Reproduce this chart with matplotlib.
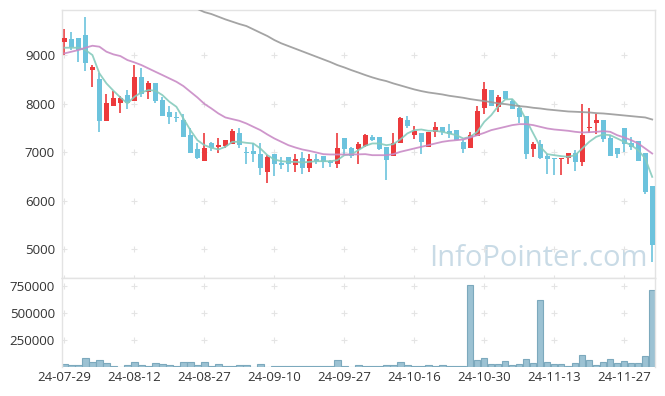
import matplotlib
matplotlib.use("Agg")
import matplotlib.pyplot as plt
import numpy as np

dates = ["24-07-29","24-07-30","24-07-31","24-08-01","24-08-02","24-08-05","24-08-06","24-08-07","24-08-08","24-08-09",
         "24-08-12","24-08-13","24-08-14","24-08-16","24-08-19","24-08-20","24-08-21","24-08-22","24-08-23","24-08-26",
         "24-08-27","24-08-28","24-08-29","24-08-30","24-09-02","24-09-03","24-09-04","24-09-05","24-09-06","24-09-09",
         "24-09-10","24-09-11","24-09-12","24-09-13","24-09-19","24-09-20","24-09-23","24-09-24","24-09-25","24-09-26",
         "24-09-27","24-09-30","24-10-02","24-10-04","24-10-07","24-10-08","24-10-10","24-10-11","24-10-14","24-10-15",
         "24-10-16","24-10-17","24-10-18","24-10-21","24-10-22","24-10-23","24-10-24","24-10-25","24-10-28","24-10-29",
         "24-10-30","24-10-31","24-11-01","24-11-04","24-11-05","24-11-06","24-11-07","24-11-08","24-11-11","24-11-12",
         "24-11-13","24-11-14","24-11-15","24-11-18","24-11-19","24-11-20","24-11-21","24-11-22","24-11-25","24-11-26",
         "24-11-27","24-11-28","24-11-29","24-12-02","24-12-03"]

opens = [9275,9323,9344,9412,8698,8505,7646,7955,8017,8175,
         8058,8539,8244,8416,8072,7818,7728,7660,7350,7062,
         6821,7179,7110,7131,7165,7385,7007,7021,6972,6594,
         6959,6780,6904,6739,6876,6684,6849,6931,6814,6766,
         7289,7076,7062,7131,7316,7316,7110,6924,7192,7660,
         7351,7399,7110,7419,7515,7433,7453,7213,7089,7330,
         7900,8278,7921,8265,8045,7914,7742,7069,7165,6918,
         6876,6849,6876,6993,6801,7502,7591,7660,7295,7089,
         7495,7192,7220,6993,6299]
highs = [9529,9481,9344,9777,8787,8636,8189,8265,8161,8278,
         8787,8739,8464,8430,8141,7955,7832,7784,7488,7192,
         7385,7199,7282,7260,7474,7488,7110,7192,7192,6938,
         6959,6904,6904,6959,7007,6959,6959,6931,6835,7399,
         7289,7110,7213,7364,7350,7316,7110,7385,7728,7742,
         7536,7399,7419,7625,7515,7577,7453,7247,7419,7948,
         8436,8278,8175,8265,8093,7969,7742,7213,7247,6959,
         6876,6876,6993,7041,7983,7900,7784,7660,7350,7089,
         7495,7302,7220,6993,6299]
lows = [9000,9103,8863,8677,8333,7419,7646,7955,7797,7880,
        8058,8141,8086,8003,7749,7577,7612,7316,6986,6856,
        6821,7027,6993,7089,7165,7096,6746,6801,6539,6374,
        6505,6649,6594,6594,6546,6594,6766,6684,6697,6684,
        6938,6890,6753,7110,7240,7041,6436,6924,7192,7488,
        7261,6972,7110,7316,7350,7282,7247,6993,7089,7330,
        7783,7955,7832,8093,7880,7591,6849,6904,6849,6560,
        6539,6539,6746,6608,6711,7385,7371,7213,6924,6890,
        7007,7041,6821,6148,4739]
closes = [9344,9158,9103,8842,8753,7646,8003,8106,8106,8003,
          8539,8196,8416,8058,7749,7715,7708,7316,6986,6883,
          7076,7076,7144,7247,7433,7144,6986,6966,6677,6897,
          6752,6732,6759,6869,6677,6849,6821,6800,6780,7076,
          7062,6924,7165,7350,7247,7055,6835,7179,7694,7543,
          7433,7213,7419,7515,7405,7371,7247,7062,7350,7845,
          8299,7955,8127,8093,7893,7728,6952,7165,6883,6849,
          6849,6876,6993,6801,7350,7516,7660,7261,6924,6952,
          7165,7110,6821,6175,5083]
volumes = [28000,19000,19000,84000,47000,69000,37000,9000,3000,19000,
           47000,19000,9000,37000,28000,19000,9000,47000,47000,19000,
           47000,9000,28000,9000,9000,19000,19000,3000,28000,2000,
           9000,9000,16000,16000,16000,16000,9000,9000,9000,65000,
           9000,3000,19000,9000,9000,9000,19000,19000,47000,19000,
           9000,9000,19000,9000,19000,9000,9000,9000,762000,65000,
           84000,28000,28000,56000,19000,28000,75000,37000,622000,47000,
           28000,28000,9000,37000,112000,65000,19000,47000,75000,37000,
           56000,37000,37000,103000,712000]
ma5 = [9151,9151,9151,9103,9000,8622,8416,8265,8127,8003,
       8141,8230,8278,8265,8175,8038,7935,7694,7454,7247,
       7144,7090,7055,7110,7213,7213,7192,7179,7076,6938,
       6849,6814,6801,6801,6787,6801,6814,6814,6814,6835,
       6938,6952,7041,7131,7179,7179,7144,7165,7261,7385,
       7453,7467,7440,7440,7419,7385,7350,7282,7316,7419,
       7625,7763,7950,8086,8093,7935,7660,7385,7110,6959,
       6938,6918,6904,6938,7076,7213,7316,7364,7350,7282,
       7213,7144,7041,6869,6491]
ma20 = [9034,9069,9103,9151,9192,9172,9069,9014,8979,8897,
        8849,8794,8725,8656,8588,8519,8450,8361,8244,8127,
        7995,7900,7797,7715,7680,7646,7591,7522,7454,7364,
        7282,7213,7144,7096,7055,7027,6993,6959,6952,6952,
        6952,6952,6955,6959,6938,6938,6938,6959,7007,7041,
        7076,7110,7144,7179,7213,7234,7247,7261,7302,7350,
        7398,7454,7488,7522,7557,7577,7577,7557,7522,7488,
        7467,7454,7440,7419,7405,7412,7419,7433,7419,7350,
        7302,7247,7179,7076,6972]
ma_long = [np.nan]*18 + [10010,9950,
           9885,9845,9790,9735,9687,9639,9598,9529,9460,9392,
           9309,9241,9186,9131,9076,9021,8966,8911,8856,8794,
           8745,8690,8640,8588,8540,8498,8464,8416,8375,8333,
           8292,8258,8230,8210,8189,8161,8141,8120,8093,8072,
           8052,8031,8003,7990,7969,7948,7935,7914,7900,7880,
           7866,7852,7838,7832,7825,7818,7804,7797,7784,7770,
           7756,7742,7728,7715,7673]

price_ticks = [5000, 6000, 7000, 8000, 9000]
vol_ticks = [250000, 500000, 750000]
tick_every = 10

FONT = ["Open Sans", "DejaVu Sans"]
plt.rcParams['font.family'] = FONT

UP = '#ec3a3c'
DOWN = '#6cc3dd'
GRID = '#e4e4e4'
SPINE = '#e3e3e3'
TXT = '#333333'

W, H = 665, 396
fig = plt.figure(figsize=(W/100, H/100), dpi=100)
L, R = 62, 655
T1, B1, B2 = 10, 278.3, 367.3
ax = fig.add_axes([L/W, 1-B1/H, (R-L)/W, (B1-T1)/H])
axv = fig.add_axes([L/W, 1-B2/H, (R-L)/W, (B2-B1)/H], sharex=ax)

n = len(dates)
x = np.arange(n)
o = np.array(opens, float); c = np.array(closes, float)
hi = np.array(highs, float); lo = np.array(lows, float)
up = c >= o
cols = np.where(up, UP, DOWN)

ax.vlines(x, lo, hi, colors=cols, linewidth=1.2, zorder=2)
body_h = np.maximum(np.abs(c - o), 18)
body_b = np.minimum(o, c)
ax.bar(x, body_h, bottom=body_b, width=0.72, color=cols, linewidth=0, zorder=3)

ax.plot(x, ma5, color='#86cbbd', linewidth=1.3, alpha=0.9, zorder=4)
ax.plot(x, ma20, color='#c98bc6', linewidth=1.3, alpha=0.9, zorder=4)
ax.plot(x, ma_long, color='#9a9a9a', linewidth=1.3, alpha=0.9, zorder=4)

ax.set_ylim(4402, 9928)
ax.set_xlim(-0.35, 84.4)
xt = list(range(0, n, tick_every))
ax.set_yticks(price_ticks)
ax.set_yticklabels([str(v) for v in price_ticks])

# plus-shaped grid markers
gx, gy = np.meshgrid(xt, price_ticks)
ax.plot(gx.ravel(), gy.ravel(), linestyle='none', marker='+', color=GRID,
        markersize=4, markeredgewidth=0.8, zorder=1)
ax.plot(xt, [4402]*len(xt), linestyle='none', marker='+', color=GRID,
        markersize=4, markeredgewidth=0.8, zorder=1, clip_on=False)

ax.text(0.8035, 0.045, "InfoPointer.com", transform=ax.transAxes, ha='center',
        va='baseline', fontsize=21, color='#c9dbe6', zorder=0)

axv.bar(x, volumes, width=0.92, color='#9cc2d3', edgecolor='#7ca9bd', linewidth=0.8, zorder=2)
axv.set_ylim(0, 820000)
axv.set_yticks(vol_ticks)
axv.set_yticklabels([str(v) for v in vol_ticks])
vx, vy = np.meshgrid(xt, vol_ticks)
axv.plot(vx.ravel(), vy.ravel(), linestyle='none', marker='+', color=GRID,
         markersize=4, markeredgewidth=0.8, zorder=1)
axv.set_xticks(xt)
axv.set_xticklabels([dates[i] for i in xt])

for a in (ax, axv):
    a.tick_params(length=0, labelsize=9.5, colors=TXT)
    for s in a.spines.values():
        s.set_color(SPINE)
        s.set_linewidth(1.0)
ax.tick_params(axis='x', labelbottom=False)
ax.tick_params(axis='y', pad=5)
axv.tick_params(axis='y', pad=5)
axv.tick_params(axis='x', pad=3)
axv.spines['bottom'].set_visible(False)

fig.savefig("out.png", dpi=100)
